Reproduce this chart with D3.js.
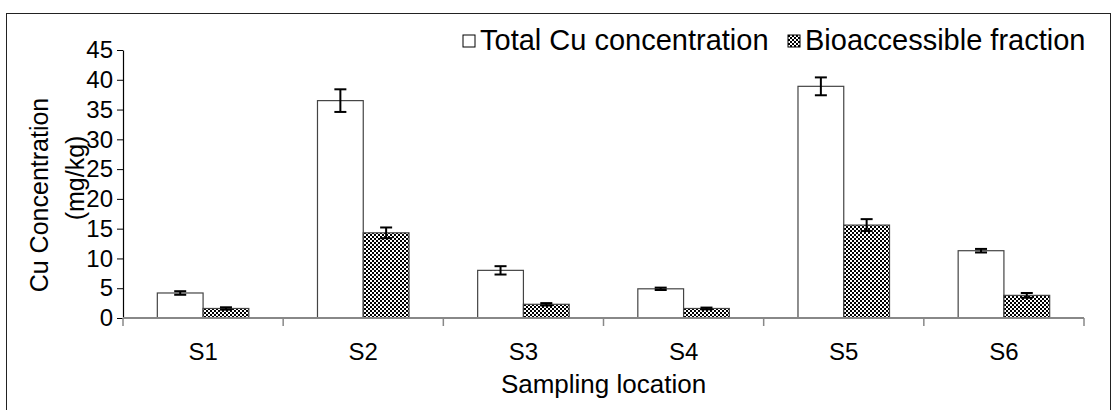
<!DOCTYPE html>
<meta charset="utf-8">
<style>

body {
  margin: 0;
  background: #fff;
}

text {
  font-family: "Liberation Sans", Arial, sans-serif;
  fill: #000;
}

</style>
<body>
<script src="https://cdn.jsdelivr.net/npm/d3@7"></script>
<script>

var sites = ["S1", "S2", "S3", "S4", "S5", "S6"],
    seriesNames = ["Total Cu concentration", "Bioaccessible fraction"],
    totalCu = [4.2, 36.5, 8.0, 4.9, 38.9, 11.3],
    totalErr = [0.3, 1.9, 0.7, 0.2, 1.5, 0.3],
    bioCu = [1.6, 14.3, 2.3, 1.6, 15.6, 3.8],
    bioErr = [0.2, 0.9, 0.2, 0.15, 1.0, 0.4],
    yTicks = [0, 5, 10, 15, 20, 25, 30, 35, 40, 45];

var w = 1113,
    h = 410,
    plotLeft = 123,
    plotRight = 1084,
    plotTop = 50,
    plotBottom = 318;

var svg = d3.select("body").append("svg")
    .attr("width", w)
    .attr("height", h);

var defs = svg.append("defs");

var pat = defs.append("pattern")
    .attr("id", "checker")
    .attr("width", 4)
    .attr("height", 4)
    .attr("patternUnits", "userSpaceOnUse");
pat.append("rect").attr("width", 4).attr("height", 4).attr("fill", "#fff");
pat.append("rect").attr("width", 2).attr("height", 2).attr("fill", "#000");
pat.append("rect").attr("x", 2).attr("y", 2).attr("width", 2).attr("height", 2).attr("fill", "#000");

// outer frame
svg.append("rect")
    .attr("x", 6.5)
    .attr("y", 13.5)
    .attr("width", 1104)
    .attr("height", 420)
    .attr("fill", "none")
    .attr("stroke", "#222")
    .attr("stroke-width", 1);

var x = d3.scaleBand()
    .domain(sites)
    .range([plotLeft, plotRight]);

var barW = x.bandwidth() / 3.5;

var y = d3.scaleLinear()
    .domain([0, 45])
    .range([plotBottom, plotTop]);

var rows = sites.map(function(s, i) {
  return [
    {site: s, k: 0, v: totalCu[i], e: totalErr[i]},
    {site: s, k: 1, v: bioCu[i], e: bioErr[i]}
  ];
});
var flat = d3.merge(rows);

function barX(d) { return x(d.site) + 0.75 * barW + d.k * barW; }

// bars
svg.append("g").selectAll("rect")
    .data(flat)
  .enter().append("rect")
    .attr("x", barX)
    .attr("y", function(d) { return y(d.v); })
    .attr("width", barW)
    .attr("height", function(d) { return y(0) - y(d.v); })
    .attr("fill", function(d) { return d.k ? "url(#checker)" : "#fff"; })
    .attr("stroke", "#444")
    .attr("stroke-width", 1.2);

// error bars
var eb = svg.append("g")
    .attr("stroke", "#000")
    .attr("stroke-width", 2)
    .selectAll("g")
    .data(flat)
  .enter().append("g")
    .attr("transform", function(d) { return "translate(" + (barX(d) + barW / 2) + ",0)"; });

eb.append("line")
    .attr("y1", function(d) { return y(d.v + d.e); })
    .attr("y2", function(d) { return y(d.v - d.e); });
eb.append("line")
    .attr("x1", -6).attr("x2", 6)
    .attr("y1", function(d) { return y(d.v + d.e); })
    .attr("y2", function(d) { return y(d.v + d.e); });
eb.append("line")
    .attr("x1", -6).attr("x2", 6)
    .attr("y1", function(d) { return y(d.v - d.e); })
    .attr("y2", function(d) { return y(d.v - d.e); });

// y axis
var yAxis = svg.append("g")
    .attr("transform", "translate(" + plotLeft + ",0)")
    .call(d3.axisLeft(y).tickValues(yTicks).tickSize(6).tickSizeOuter(0).tickPadding(4));
yAxis.selectAll("text").style("font-size", "24px").style("font-family", "Liberation Sans, Arial, sans-serif");
yAxis.select(".domain").attr("stroke", "#000").attr("stroke-width", 1.2);

// x axis
var xAxis = svg.append("g")
    .attr("transform", "translate(0," + plotBottom + ")");
xAxis.append("line")
    .attr("x1", plotLeft).attr("x2", plotRight)
    .attr("stroke", "#888").attr("stroke-width", 2);
xAxis.selectAll(".tk")
    .data(sites.concat(["end"]))
  .enter().append("line")
    .attr("x1", function(d) { return d === "end" ? plotRight : x(d); })
    .attr("x2", function(d) { return d === "end" ? plotRight : x(d); })
    .attr("y1", 0).attr("y2", 8)
    .attr("stroke", "#888").attr("stroke-width", 1.5);
xAxis.selectAll("text")
    .data(sites)
  .enter().append("text")
    .attr("x", function(d) { return x(d) + x.bandwidth() / 2; })
    .attr("y", 42)
    .attr("text-anchor", "middle")
    .style("font-size", "24px")
    .text(function(d) { return d; });

// axis titles
svg.append("text")
    .attr("x", (plotLeft + plotRight) / 2)
    .attr("y", 393)
    .attr("text-anchor", "middle")
    .style("font-size", "26px")
    .text("Sampling location");

svg.append("text")
    .attr("transform", "translate(48,195)rotate(-90)")
    .attr("text-anchor", "middle")
    .style("font-size", "25px")
    .text("Cu Concentration");

svg.append("text")
    .attr("transform", "translate(84,178)rotate(-90)")
    .attr("text-anchor", "middle")
    .style("font-size", "25px")
    .text("(mg/kg)");

// legend
var legend = svg.append("g").selectAll("g")
    .data(seriesNames)
  .enter().append("g")
    .attr("transform", function(d, i) { return "translate(" + (i ? 788 : 463) + ",35)"; });
legend.append("rect")
    .attr("width", 12)
    .attr("height", 12)
    .attr("fill", function(d, i) { return i ? "url(#checker)" : "#fff"; })
    .attr("stroke", "#000");
legend.append("text")
    .attr("x", 17)
    .attr("y", 15)
    .style("font-size", "29px")
    .text(function(d) { return d; });

</script>
</body>
